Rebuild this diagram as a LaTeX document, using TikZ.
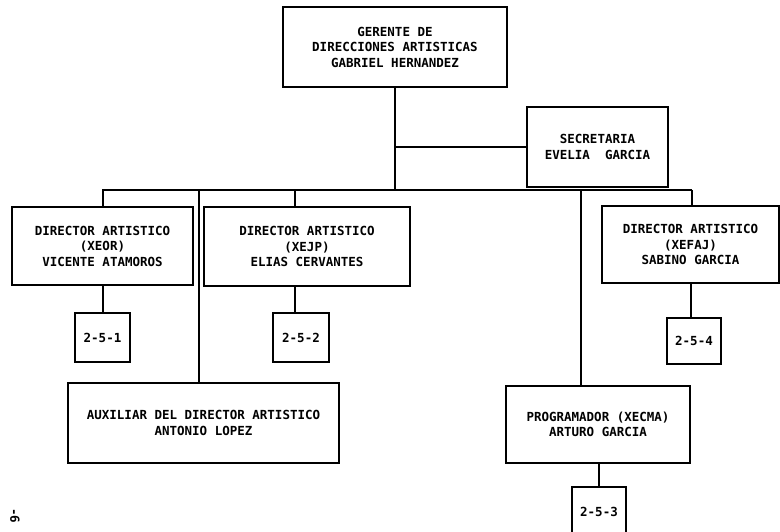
\documentclass[tikz,border=0pt]{standalone}
\usepackage{fontspec}
\setmonofont{DejaVu Sans Mono}
\begin{document}
\begin{tikzpicture}[x=1pt,y=-1pt,
  every node/.style={font=\ttfamily\bfseries\fontsize{12.5}{15.5}\selectfont},
  box/.style={draw,line width=2pt,align=center,inner sep=0pt,
    minimum width=#1},
  conn/.style={line width=2pt}]
\useasboundingbox (0,0) rectangle (780,532);
% boxes
\node[box=224pt,minimum height=80pt] (g) at (395,47)
  {GERENTE DE\\DIRECCIONES ARTISTICAS\\GABRIEL HERNANDEZ};
\node[box=141pt,minimum height=80pt] (sec) at (597.5,147)
  {SECRETARIA\\EVELIA\ \ GARCIA};
\node[box=181pt,minimum height=78pt] (d1) at (102.5,246)
  {DIRECTOR ARTISTICO\\(XEOR)\\VICENTE ATAMOROS};
\node[box=206pt,minimum height=79pt] (d2) at (307,246.5)
  {DIRECTOR ARTISTICO\\(XEJP)\\ELIAS CERVANTES};
\node[box=177pt,minimum height=77pt] (d3) at (690.5,244.5)
  {DIRECTOR ARTISTICO\\(XEFAJ)\\SABINO GARCIA};
\node[box=55pt,minimum height=49pt] (b1) at (102.5,337.5) {2-5-1};
\node[box=56pt,minimum height=49pt] (b2) at (301,337.5) {2-5-2};
\node[box=54pt,minimum height=46pt] (b4) at (694,341) {2-5-4};
\node[box=271pt,minimum height=80pt] (aux) at (203.5,423)
  {AUXILIAR DEL DIRECTOR ARTISTICO\\ANTONIO LOPEZ};
\node[box=184pt,minimum height=77pt] (prog) at (598,424.5)
  {PROGRAMADOR (XECMA)\\ARTURO GARCIA};
\node[box=54pt,minimum height=50pt] (b3) at (599,512) {2-5-3};
\node[rotate=-90,anchor=west,inner sep=0pt] (pg) at (15,508) {-6};
% connector points
\coordinate (busL) at (102,190);
\coordinate (busR) at (692,190);
\coordinate (cAux) at (199,383);
\coordinate (cD2) at (295,207);
\coordinate (cProg) at (581,386);
\coordinate (cB2) at (295,313);
% connectors
\draw[conn] (g.south) -- (g.south |- busL);
\draw[conn] (g.south |- sec.west) -- (sec.west);
\draw[conn] (busL) -- (busR);
\draw[conn] (d1.north) -- (d1.north |- busL);
\draw[conn] (cAux) -- (cAux |- busL);
\draw[conn] (cD2) -- (cD2 |- busL);
\draw[conn] (cProg) -- (cProg |- busL);
\draw[conn] (busR) -- (busR |- d3.north);
\draw[conn] (b1.north) -- (b1.north |- d1.south);
\draw[conn] (cB2) -- (cB2 |- d2.south);
\draw[conn] (d3.south) -- (d3.south |- b4.north);
\draw[conn] (b3.north) -- (b3.north |- prog.south);
\end{tikzpicture}
\end{document}
